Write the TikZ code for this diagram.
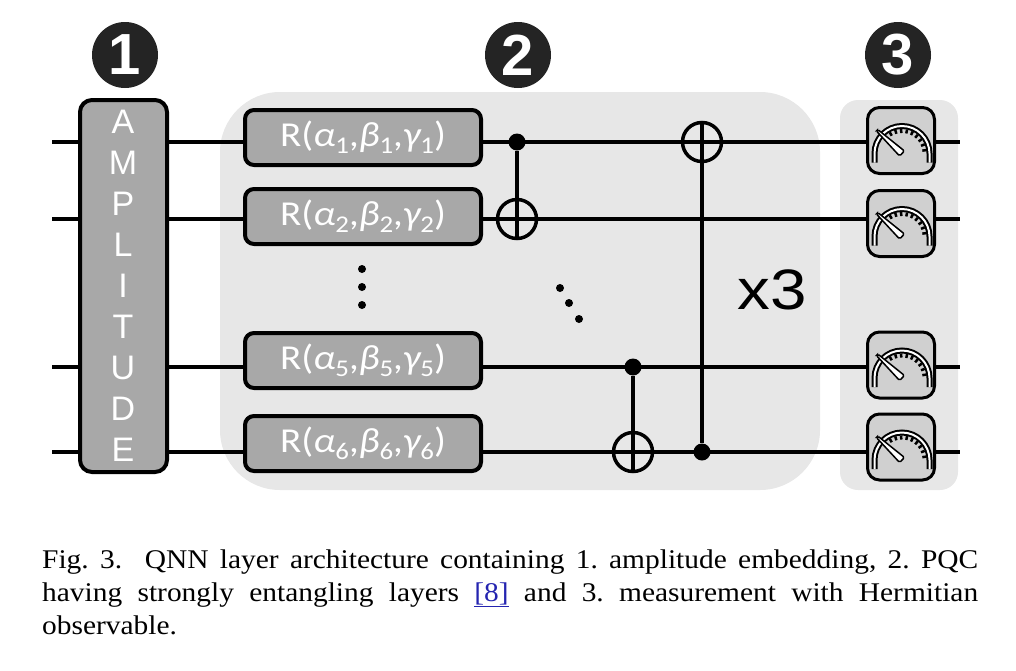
\documentclass[tikz,border=0pt]{standalone}
\usepackage{fontspec}
\setmainfont[FakeStretch=1.09]{Liberation Serif}
\setsansfont{Liberation Sans}
\newfontfamily\gatefont[FakeStretch=1.12]{Carlito}
\newfontfamily\repfont[FakeStretch=1.15]{Liberation Sans}
\newcommand\gateang[2]{{\itshape #1}\raisebox{-0.2em}{\fontsize{24}{24}\selectfont #2}}

\definecolor{panelgray}{HTML}{E7E7E7}
\definecolor{gategray}{HTML}{A8A8A8}
\definecolor{metergray}{HTML}{D0D0D0}
\definecolor{badgeblack}{HTML}{242424}
\definecolor{linkblue}{HTML}{2424B0}

\begin{document}
\begin{tikzpicture}[x=1pt, y=-1pt,
    panel/.style={fill=panelgray, inner sep=0pt},
    badge/.style={circle, fill=badgeblack, text=white, inner sep=0pt, minimum size=66pt,
        font=\sffamily\bfseries\fontsize{58}{58}\selectfont},
    wire/.style={line width=4pt},
    embed/.style={draw, line width=4pt, fill=gategray, rounded corners=12pt, inner sep=0pt,
        minimum width=87pt, minimum height=372pt},
    letter/.style={text=white, inner sep=0pt, font=\sffamily\fontsize{34}{34}\selectfont},
    rgate/.style={draw, line width=4pt, fill=gategray, rounded corners=9pt, inner sep=0pt,
        minimum width=236pt, minimum height=55pt, text=white,
        font=\gatefont\fontsize{35}{38}\selectfont},
    ctrl/.style={circle, fill=black, inner sep=0pt, minimum size=17pt},
    targ/.style={circle, draw, line width=3.5pt, inner sep=0pt, minimum size=39pt},
    dot/.style={circle, fill=black, inner sep=0pt, minimum size=8pt},
    meter/.style={draw, line width=3pt, fill=metergray, rounded corners=12pt, inner sep=0pt,
        minimum width=67pt, minimum height=66pt},
    caption/.style={anchor=north west, inner sep=0pt, text width=936pt, align=justify,
        font=\fontsize{27}{33}\selectfont}
]
    \useasboundingbox (0,0) rectangle (1016,670);

    \node[panel, rounded corners=60pt, minimum width=600pt, minimum height=398pt] at (520,291) (layers) {};
    \node[panel, rounded corners=18pt, minimum width=118pt, minimum height=390pt] at (899,295) (readout) {};

    \node[badge] at (125,55) (b1) {1};
    \node[badge] at (518,55) (b2) {2};
    \node[badge] at (898,55) (b3) {3};

    \foreach \q/\y in {1/142, 2/219, 5/367, 6/452} {
        \coordinate (in\q)  at (52,\y);
        \coordinate (out\q) at (960,\y);
        \draw[wire] (in\q) -- (out\q);
    }

    \node[embed] at (123.5,286) (amp) {};
    \foreach \ch [count=\i] in {A,M,P,L,I,T,U,D,E}
        \node[letter] at (123,{122+41*(\i-1)}) (l\i) {\ch};

    \node[rgate] at (363,137.5) (r1) {R(\gateang{α}{1},\gateang{β}{1},\gateang{γ}{1})};
    \node[rgate] at (363,216.5) (r2) {R(\gateang{α}{2},\gateang{β}{2},\gateang{γ}{2})};
    \node[rgate] at (363,360.5) (r5) {R(\gateang{α}{5},\gateang{β}{5},\gateang{γ}{5})};
    \node[rgate] at (363,443.5) (r6) {R(\gateang{α}{6},\gateang{β}{6},\gateang{γ}{6})};

    \node[dot] at (362,269) (v1) {};
    \node[dot] at (362,287) (v2) {};
    \node[dot] at (362,305) (v3) {};
    \node[dot] at (560,288) (d1) {};
    \node[dot] at (569,303) (d2) {};
    \node[dot] at (579,319) (d3) {};

    \node[ctrl] at (517,142) (c1) {};
    \node[targ] at (517,219) (t2) {};
    \node[ctrl] at (633,367) (c5) {};
    \node[targ] at (633,452) (t6) {};
    \node[targ] at (702,142) (t1) {};
    \node[ctrl] at (702,452) (c6) {};

    \draw[wire] (c1) -- (t2.south);
    \draw[wire] (c5) -- (t6.south);
    \draw[wire] (c6) -- (t1.north);

    \node[font=\repfont\fontsize{57}{57}\selectfont, inner sep=0pt] at (772,290) (rep) {x3};

    \node[meter] at (901,140.5) (m1) {};
    \node[meter] at (901,223.5) (m2) {};
    \node[meter] at (901,365) (m5) {};
    \node[meter] at (901,447) (m6) {};

    \foreach \m in {m1,m2,m5,m6} {
        \begin{scope}[shift={(\m.center)}, shift={(1,13)}]
            \draw[line width=6pt] (-27.5,9) -- (-27.5,0) arc[start angle=180, end angle=360, radius=27.5] -- (27.5,9);
            \draw[line width=2pt, white] (-27.5,9) -- (-27.5,0) arc[start angle=180, end angle=360, radius=27.5] -- (27.5,9);
            \foreach \a in {-8,-22,...,-120}
                \draw[line width=2.5pt] (\a:20.5) -- (\a:24.5);
            \draw[fill=white, line width=1.5pt, rotate=137, rounded corners=1.5pt]
                (0,-3.5) -- (34,-1) -- (34,1) -- (0,3.5) -- cycle;
        \end{scope}
    }

    \node[caption] at (42,549.5) (cap) {\noindent\frenchspacing Fig. 3.\ \ QNN layer architecture containing 1. amplitude embedding, 2. PQC\linebreak
        having strongly entangling layers \textcolor{linkblue}{\underline{[8]}} and 3. measurement with Hermitian\linebreak
        observable.};
\end{tikzpicture}
\end{document}
